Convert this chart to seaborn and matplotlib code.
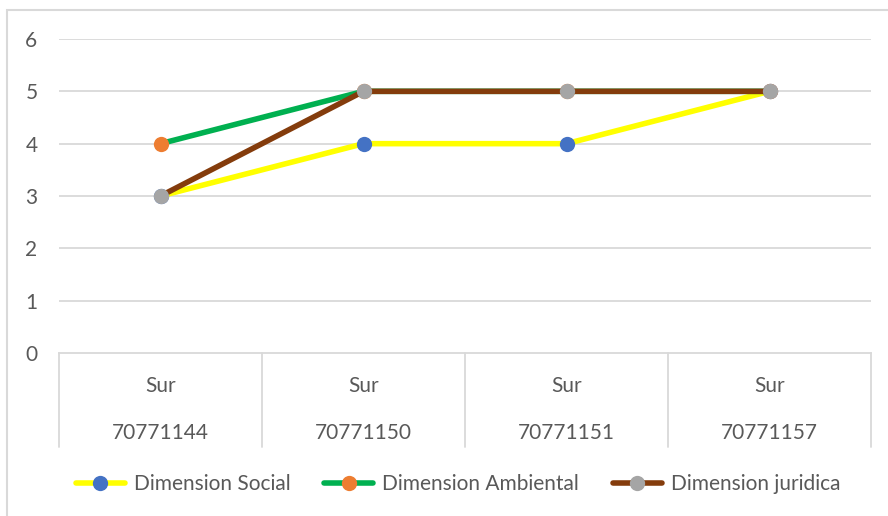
import matplotlib
matplotlib.use("Agg")
import matplotlib.pyplot as plt
import seaborn as sns
import pandas as pd
from matplotlib.patches import Rectangle
from matplotlib.lines import Line2D

regions = ["Sur", "Sur", "Sur", "Sur"]
codes = ["70771144", "70771150", "70771151", "70771157"]
series_names = ["Dimension Social", "Dimension Ambiental", "Dimension juridica"]
social = [3, 4, 4, 5]
ambiental = [4, 5, 5, 5]
juridica = [3, 5, 5, 5]
y_ticks = [0, 1, 2, 3, 4, 5, 6]

line_colors = ["#FFFF00", "#00B050", "#843C0C"]
marker_colors = ["#4472C4", "#ED7D31", "#A5A5A5"]

sns.set_theme(style="white")
plt.rcParams['font.family'] = ['Lato', 'DejaVu Sans']
txt = "#595959"
grid = "#D9D9D9"
fs = 15

fig = plt.figure(figsize=(8.88, 5.16), dpi=100)
W, H = 888, 516
ax = fig.add_axes([59 / W, 1 - 353 / H, (871 - 59) / W, (353 - 39) / H])

idx = list(range(len(codes)))
df = pd.DataFrame({
    "x": idx * 3,
    "y": social + ambiental + juridica,
    "s": [series_names[0]] * 4 + [series_names[1]] * 4 + [series_names[2]] * 4,
})
for i, name in enumerate(series_names):
    sub = df[df["s"] == name]
    sns.lineplot(data=sub, x="x", y="y", ax=ax, color=line_colors[i], lw=4,
                 marker="o", markersize=11, markerfacecolor=marker_colors[i],
                 markeredgecolor=marker_colors[i], markeredgewidth=0,
                 zorder=3 + i, legend=False)

ax.set_xlim(-0.5, len(codes) - 0.5)
ax.set_ylim(0, 6)
ax.set_yticks(y_ticks)
ax.set_yticklabels([str(t) for t in y_ticks], fontsize=fs, color=txt)
ax.tick_params(axis="y", length=0, pad=15.5)
ax.set_xticks([])
ax.set_xlabel("")
ax.set_ylabel("")
for t in y_ticks[1:]:
    ax.axhline(t, color=grid, lw=1.3, zorder=1)
for sp in ["top", "right", "left"]:
    ax.spines[sp].set_visible(False)
ax.spines["bottom"].set_color(grid)
ax.spines["bottom"].set_linewidth(1.3)

# multi-level category axis
trans = ax.get_xaxis_transform()
table_bottom = -(447 - 353) / (353 - 39)
for b in [i - 0.5 for i in idx] + [idx[-1] + 0.5]:
    ax.plot([b, b], [0, table_bottom], transform=trans, color=grid, lw=1.3,
            clip_on=False)
for i in idx:
    ax.text(i, -(386 - 353) / (353 - 39), regions[i], transform=trans,
            ha="center", va="center", fontsize=fs, color=txt)
    ax.text(i, -(433 - 353) / (353 - 39), codes[i], transform=trans,
            ha="center", va="center", fontsize=fs, color=txt)

handles = [Line2D([0], [0], color=line_colors[i], lw=4, marker="o", markersize=11,
                  markerfacecolor=marker_colors[i], markeredgewidth=0)
           for i in range(3)]
fig.legend(handles, series_names, loc="center", bbox_to_anchor=(458 / W, 1 - 484 / H),
           ncol=3, frameon=False, fontsize=fs, handlelength=2.35, handletextpad=0.45,
           columnspacing=1.6, labelcolor=txt)

fig.patches.append(Rectangle((7 / W, -0.1), 1.2, 1 - 10 / H + 0.1, transform=fig.transFigure,
                             fill=False, edgecolor=grid, lw=1.5))

fig.savefig("out.png", dpi=100)
